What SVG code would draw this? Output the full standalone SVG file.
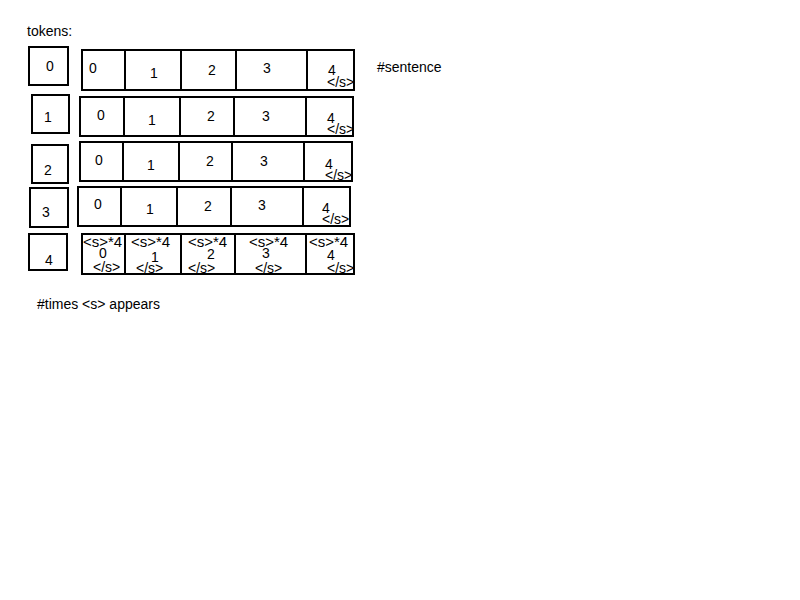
<svg xmlns="http://www.w3.org/2000/svg" width="800" height="600" viewBox="0 0 800 600">
<style>
rect{fill:#fff;stroke:#000;stroke-width:2}
line{stroke:#000;stroke-width:2}
text{font-family:"Liberation Sans",Arial,sans-serif;font-size:14px;fill:#000}
.t{font-size:15px}
</style>
<rect x="0" y="0" width="800" height="600" style="stroke:none"/>
<text x="27" y="36">tokens:</text>
<text x="377" y="72">#sentence</text>
<text x="37" y="309">#times &lt;s&gt; appears</text>
<g id="idx0"><rect x="29" y="47" width="39" height="38"/><text x="46" y="71">0</text></g>
<g id="idx1"><rect x="32" y="95" width="37" height="38"/><text x="44" y="122">1</text></g>
<g id="idx2"><rect x="32" y="145" width="36" height="38"/><text x="44" y="175">2</text></g>
<g id="idx3"><rect x="30" y="188" width="38" height="39"/><text x="42" y="217">3</text></g>
<g id="idx4"><rect x="29" y="234" width="38" height="36"/><text x="45" y="265">4</text></g>
<g id="row0">
<rect x="82" y="50" width="272" height="40"/>
<line x1="125" y1="50" x2="125" y2="90"/><line x1="181" y1="50" x2="181" y2="90"/><line x1="236" y1="50" x2="236" y2="90"/><line x1="307" y1="50" x2="307" y2="90"/>
<text x="89" y="73">0</text><text x="150" y="78">1</text><text x="208" y="75">2</text><text x="263" y="73">3</text><text x="328" y="75">4</text><text x="327" y="87">&lt;/s&gt;</text>
</g>
<g id="row1">
<rect x="80" y="97" width="273" height="39"/>
<line x1="124" y1="97" x2="124" y2="136"/><line x1="180" y1="97" x2="180" y2="136"/><line x1="234" y1="97" x2="234" y2="136"/><line x1="306" y1="97" x2="306" y2="136"/>
<text x="97" y="120">0</text><text x="148" y="125">1</text><text x="207" y="121">2</text><text x="262" y="121">3</text><text x="327" y="123">4</text><text x="327" y="134">&lt;/s&gt;</text>
</g>
<g id="row2">
<rect x="80" y="142" width="272" height="39"/>
<line x1="123" y1="142" x2="123" y2="181"/><line x1="179" y1="142" x2="179" y2="181"/><line x1="232" y1="142" x2="232" y2="181"/><line x1="304" y1="142" x2="304" y2="181"/>
<text x="95" y="165">0</text><text x="147" y="170">1</text><text x="206" y="166">2</text><text x="260" y="166">3</text><text x="325" y="169">4</text><text x="325" y="180">&lt;/s&gt;</text>
</g>
<g id="row3">
<rect x="78" y="187" width="272" height="39"/>
<line x1="121" y1="187" x2="121" y2="226"/><line x1="177" y1="187" x2="177" y2="226"/><line x1="231" y1="187" x2="231" y2="226"/><line x1="303" y1="187" x2="303" y2="226"/>
<text x="94" y="209">0</text><text x="146" y="214">1</text><text x="204" y="211">2</text><text x="258" y="210">3</text><text x="322" y="213">4</text><text x="322" y="224">&lt;/s&gt;</text>
</g>
<g id="row4">
<rect x="82" y="234" width="272" height="40"/>
<line x1="125" y1="234" x2="125" y2="274"/><line x1="181" y1="234" x2="181" y2="274"/><line x1="235" y1="234" x2="235" y2="274"/><line x1="306" y1="234" x2="306" y2="274"/>
<text class="t" x="83" y="247">&lt;s&gt;*4</text><text x="99" y="258">0</text><text x="93" y="272">&lt;/s&gt;</text>
<text class="t" x="131" y="247">&lt;s&gt;*4</text><text x="151" y="262">1</text><text x="136" y="273">&lt;/s&gt;</text>
<text class="t" x="188" y="247">&lt;s&gt;*4</text><text x="207" y="259">2</text><text x="188" y="273">&lt;/s&gt;</text>
<text class="t" x="249" y="247">&lt;s&gt;*4</text><text x="262" y="258">3</text><text x="255" y="273">&lt;/s&gt;</text>
<text class="t" x="309" y="247">&lt;s&gt;*4</text><text x="327" y="260">4</text><text x="327" y="273">&lt;/s&gt;</text>
</g>
</svg>
